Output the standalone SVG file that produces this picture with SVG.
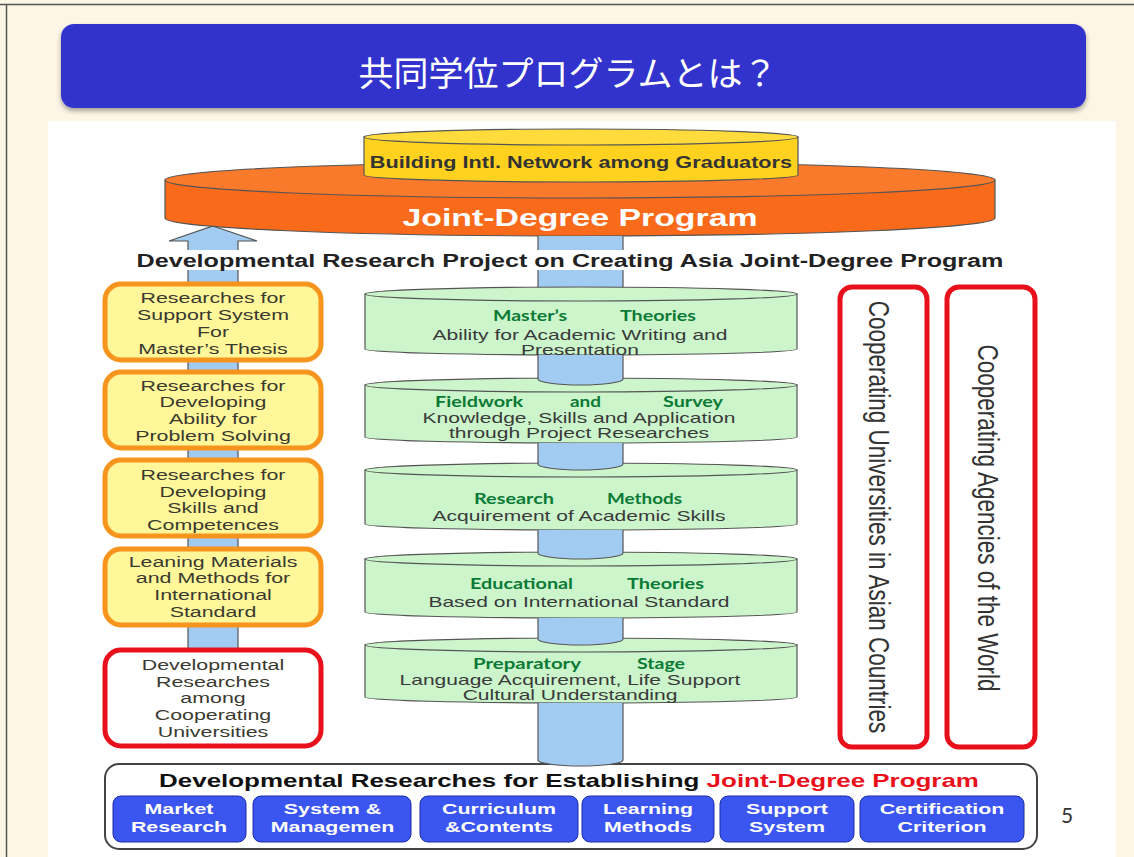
<svg xmlns="http://www.w3.org/2000/svg" width="1134" height="857" viewBox="0 0 1134 857">
<defs>
<filter id="sh" x="-5%" y="-20%" width="110%" height="150%"><feDropShadow dx="0" dy="3" stdDeviation="2.5" flood-color="#000" flood-opacity="0.35"/></filter>
</defs>
<style>
.t{font-family:"Liberation Sans",Arial,sans-serif;}
.b{font-weight:bold;}
.box{fill:#fff799;stroke:#f7941d;stroke-width:5;}
.rbox{fill:#fff;stroke:#e8101a;stroke-width:5;}
.bt{font-family:"Liberation Sans",Arial,sans-serif;font-size:15.5px;fill:#3a3a30;text-anchor:middle;}
.gd{fill:#ccf5cc;stroke:#555;stroke-width:1.2;}
.gw{font-family:Lato,"Open Sans",sans-serif;font-weight:bold;font-size:16px;fill:#0a7a35;}
.st{font-family:"Liberation Sans",Arial,sans-serif;font-size:14.8px;fill:#3a3a3a;text-anchor:middle;}
.col{fill:#a2cbf2;stroke:#555;stroke-width:1.2;}
.btn{fill:#3b55f0;stroke:#1d2fa8;stroke-width:1;}
.btt{font-family:"Liberation Sans",Arial,sans-serif;font-weight:bold;font-size:15.5px;fill:#fff;text-anchor:middle;}
</style>
<rect x="0" y="0" width="1134" height="857" fill="#fdf6e6"/>
<path d="M0,4.5 H1134 M6.5,4.5 V857" stroke="#555" stroke-width="1.5" fill="none"/>
<rect x="48" y="121" width="1068" height="736" fill="#fff"/>

<g id="title">
<rect x="61" y="24" width="1025" height="84" rx="13" fill="#3333cc" filter="url(#sh)"/>
<text x="568" y="86" font-family="'Noto Sans CJK JP',sans-serif" font-size="34" fill="#fff" text-anchor="middle" textLength="419" lengthAdjust="spacingAndGlyphs">共同学位プログラムとは？</text>
</g>

<g id="left-arrow">
<path d="M213,226 L257,241 L238,241 L238,650 L188,650 L188,241 L169,241 Z" fill="#a2cbf2" stroke="#555" stroke-width="1.2"/>
</g>

<g id="jdp-disk">
<path d="M165,180 L165,218 A415,18 0 0 0 995,218 L995,180 Z" fill="#f96a1b" stroke="#555" stroke-width="1.2"/>
<ellipse cx="580" cy="180" rx="415" ry="18" fill="#fa7a2c" stroke="#555" stroke-width="1.2"/>
<g transform="matrix(1.38 0 0 1 -220.4 0)"><text class="t b" x="580" y="226" font-size="24.5" fill="#fff" text-anchor="middle">Joint-Degree Program</text></g>
</g>

<g id="network-cyl">
<path d="M364,137 L364,175 A217,7 0 0 0 798,175 L798,137 Z" fill="#ffd21f" stroke="#555" stroke-width="1.2"/>
<ellipse cx="581" cy="137" rx="217" ry="8" fill="#ffdc3c" stroke="#555" stroke-width="1.2"/>
<g transform="matrix(1.38 0 0 1 -220.8 0)"><text class="t b" x="581" y="168" font-size="15.7" fill="#333" text-anchor="middle">Building Intl. Network among Graduators</text></g>
</g>

<g id="col-top">
<path class="col" d="M538,236 L538,287 A42.5,6 0 0 0 623,287 L623,236"/>
</g>

<g id="subtitle">
<rect x="130" y="250" width="880" height="20" fill="#fff"/>
<g transform="matrix(1.38 0 0 1 -216.6 0)"><text class="t b" x="570" y="267" font-size="18.2" fill="#222" text-anchor="middle">Developmental Research Project on Creating Asia Joint-Degree Program</text></g>
</g>

<g id="box-thesis">
<rect class="box" x="105" y="284" width="216" height="76" rx="16"/>
<g transform="matrix(1.38 0 0 1 -80.94 0)">
<text class="bt" x="213" y="303">Researches for</text>
<text class="bt" x="213" y="320">Support System</text>
<text class="bt" x="213" y="337">For</text>
<text class="bt" x="213" y="354">Master’s Thesis</text>
</g>
</g>
<g id="box-problem">
<rect class="box" x="105" y="372" width="216" height="76" rx="16"/>
<g transform="matrix(1.38 0 0 1 -80.94 0)">
<text class="bt" x="213" y="391">Researches for</text>
<text class="bt" x="213" y="407">Developing</text>
<text class="bt" x="213" y="424">Ability for</text>
<text class="bt" x="213" y="441">Problem Solving</text>
</g>
</g>
<g id="box-skills">
<rect class="box" x="105" y="460" width="216" height="76" rx="16"/>
<g transform="matrix(1.38 0 0 1 -80.94 0)">
<text class="bt" x="213" y="480">Researches for</text>
<text class="bt" x="213" y="497">Developing</text>
<text class="bt" x="213" y="513">Skills and</text>
<text class="bt" x="213" y="530">Competences</text>
</g>
</g>
<g id="box-materials">
<rect class="box" x="105" y="549" width="216" height="76" rx="16"/>
<g transform="matrix(1.38 0 0 1 -80.94 0)">
<text class="bt" x="213" y="567">Leaning Materials</text>
<text class="bt" x="213" y="583">and Methods for</text>
<text class="bt" x="213" y="600">International</text>
<text class="bt" x="213" y="617">Standard</text>
</g>
</g>
<g id="box-coop">
<rect class="rbox" x="105" y="650" width="216" height="96" rx="16"/>
<g transform="matrix(1.38 0 0 1 -80.94 0)">
<text class="bt" x="213" y="670">Developmental</text>
<text class="bt" x="213" y="687">Researches</text>
<text class="bt" x="213" y="703">among</text>
<text class="bt" x="213" y="720">Cooperating</text>
<text class="bt" x="213" y="737">Universities</text>
</g>
</g>

<g id="disk-masters">
<path class="gd" d="M365,294 L365,349 A216,6 0 0 0 797,349 L797,294 Z"/>
<ellipse class="gd" cx="581" cy="294" rx="216" ry="7"/>
<text class="gw" x="493" y="321" textLength="74" lengthAdjust="spacingAndGlyphs">Master’s</text>
<text class="gw" x="620" y="321" textLength="76" lengthAdjust="spacingAndGlyphs">Theories</text>
<g transform="matrix(1.42 0 0 1 -242.18 0)">
<text class="st" x="579" y="340">Ability for Academic Writing and</text>
<text class="st" x="579" y="355">Presentation</text>
</g>
</g>
<g id="disk-fieldwork">
<path class="gd" d="M365,385 L365,437 A216,6 0 0 0 797,437 L797,385 Z"/>
<ellipse class="gd" cx="581" cy="385" rx="216" ry="7"/>
<text class="gw" x="435" y="407" textLength="88" lengthAdjust="spacingAndGlyphs">Fieldwork</text>
<text class="gw" x="570" y="407" textLength="31" lengthAdjust="spacingAndGlyphs">and</text>
<text class="gw" x="663" y="407" textLength="60" lengthAdjust="spacingAndGlyphs">Survey</text>
<g transform="matrix(1.42 0 0 1 -241.76 0)">
<text class="st" x="578" y="423">Knowledge, Skills and Application</text>
<text class="st" x="578" y="438">through Project Researches</text>
</g>
</g>
<g id="disk-methods">
<path class="gd" d="M365,470 L365,524 A216,6 0 0 0 797,524 L797,470 Z"/>
<ellipse class="gd" cx="581" cy="470" rx="216" ry="7"/>
<text class="gw" x="474" y="504" textLength="80" lengthAdjust="spacingAndGlyphs">Research</text>
<text class="gw" x="607" y="504" textLength="75" lengthAdjust="spacingAndGlyphs">Methods</text>
<g transform="matrix(1.42 0 0 1 -241.76 0)">
<text class="st" x="578" y="521">Acquirement of Academic Skills</text>
</g>
</g>
<g id="disk-educational">
<path class="gd" d="M365,559 L365,612 A216,6 0 0 0 797,612 L797,559 Z"/>
<ellipse class="gd" cx="581" cy="559" rx="216" ry="7"/>
<text class="gw" x="470" y="589" textLength="103" lengthAdjust="spacingAndGlyphs">Educational</text>
<text class="gw" x="627" y="589" textLength="77" lengthAdjust="spacingAndGlyphs">Theories</text>
<g transform="matrix(1.42 0 0 1 -241.76 0)">
<text class="st" x="578" y="607">Based on International Standard</text>
</g>
</g>
<g id="disk-preparatory">
<path class="gd" d="M365,645 L365,697 A216,6 0 0 0 797,697 L797,645 Z"/>
<ellipse class="gd" cx="581" cy="645" rx="216" ry="7"/>
<text class="gw" x="473" y="669" textLength="108" lengthAdjust="spacingAndGlyphs">Preparatory</text>
<text class="gw" x="637" y="669" textLength="48" lengthAdjust="spacingAndGlyphs">Stage</text>
<g transform="matrix(1.42 0 0 1 -239.4 0)">
<text class="st" x="570" y="685">Language Acquirement, Life Support</text>
<text class="st" x="570" y="700">Cultural Understanding</text>
</g>
</g>

<g id="box-universities">
<rect class="rbox" x="840" y="287" width="87" height="460" rx="12"/>
<text class="t" transform="translate(869,517) rotate(90) scale(1,1.35)" x="0" y="0" font-size="22.5" fill="#333" text-anchor="middle">Cooperating Universities in Asian Countries</text>
</g>
<g id="box-agencies">
<rect class="rbox" x="947" y="287" width="88" height="460" rx="12"/>
<text class="t" transform="translate(978,518) rotate(90) scale(1,1.35)" x="0" y="0" font-size="22.5" fill="#333" text-anchor="middle">Cooperating Agencies of the World</text>
</g>

<g id="bottom-panel">
<rect x="105" y="764" width="932" height="85" rx="14" fill="#fff" stroke="#444" stroke-width="2"/>
<g transform="matrix(1.38 0 0 1 -216.2 0)"><text class="t b" x="569" y="787" font-size="18.8" fill="#111" text-anchor="middle">Developmental Researches for Establishing <tspan fill="#e8101a">Joint-Degree Program</tspan></text></g>
</g>

<g id="connectors">
<path class="col" d="M538,355 L538,379 A42.5,6 0 0 0 623,379 L623,355"/>
<path class="col" d="M538,443 L538,464 A42.5,6 0 0 0 623,464 L623,443"/>
<path class="col" d="M538,530 L538,553 A42.5,6 0 0 0 623,553 L623,530"/>
<path class="col" d="M538,618 L538,639 A42.5,6 0 0 0 623,639 L623,618"/>
<path class="col" d="M538,703 L538,760 A42.5,6 0 0 0 623,760 L623,703"/>
</g>

<g id="btn-market"><rect class="btn" x="113" y="796" width="133" height="46" rx="8"/>
<g transform="matrix(1.38 0 0 1 -68.02 0)"><text class="btt" x="179" y="814">Market</text><text class="btt" x="179" y="832">Research</text></g></g>
<g id="btn-system"><rect class="btn" x="253" y="796" width="158" height="46" rx="8"/>
<g transform="matrix(1.38 0 0 1 -126.35 0)"><text class="btt" x="332.5" y="814">System &amp;</text><text class="btt" x="332.5" y="832">Managemen</text></g></g>
<g id="btn-curriculum"><rect class="btn" x="420" y="796" width="158" height="46" rx="8"/>
<g transform="matrix(1.38 0 0 1 -189.62 0)"><text class="btt" x="499" y="814">Curriculum</text><text class="btt" x="499" y="832">&amp;Contents</text></g></g>
<g id="btn-learning"><rect class="btn" x="582" y="796" width="132" height="46" rx="8"/>
<g transform="matrix(1.38 0 0 1 -246.24 0)"><text class="btt" x="648" y="814">Learning</text><text class="btt" x="648" y="832">Methods</text></g></g>
<g id="btn-support"><rect class="btn" x="720" y="796" width="134" height="46" rx="8"/>
<g transform="matrix(1.38 0 0 1 -299.06 0)"><text class="btt" x="787" y="814">Support</text><text class="btt" x="787" y="832">System</text></g></g>
<g id="btn-cert"><rect class="btn" x="860" y="796" width="164" height="46" rx="8"/>
<g transform="matrix(1.38 0 0 1 -357.96 0)"><text class="btt" x="942" y="814">Certification</text><text class="btt" x="942" y="832">Criterion</text></g></g>

<text x="1067" y="823" font-family="Lato,'Open Sans',sans-serif" font-size="21" fill="#333" text-anchor="middle">5</text>
</svg>
